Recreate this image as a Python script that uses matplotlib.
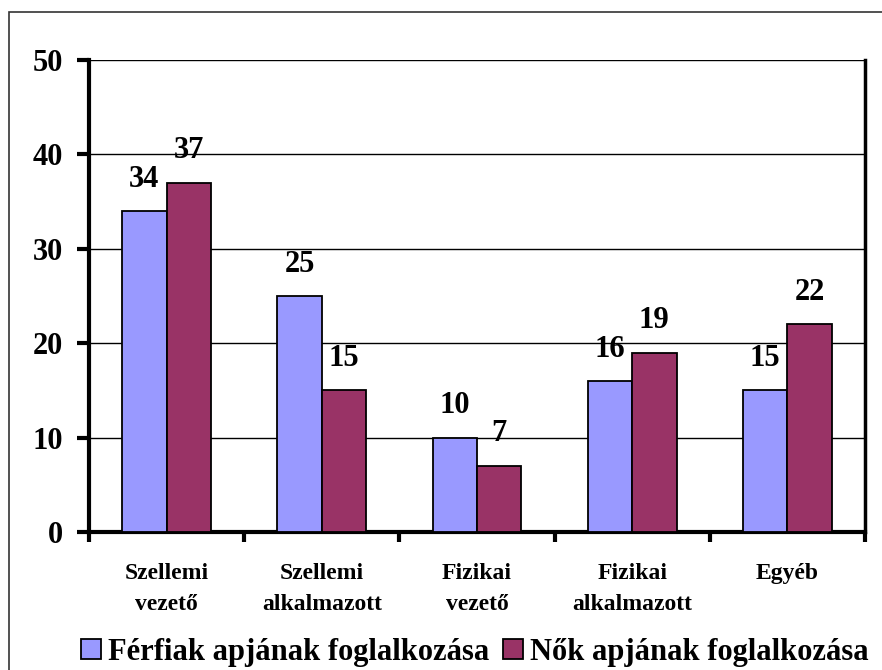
import numpy as np
import matplotlib
matplotlib.use("Agg")
from matplotlib import pyplot as plt
from matplotlib.patches import Rectangle

categories = ["Szellemi\nvezető", "Szellemi\nalkalmazott", "Fizikai\nvezető",
              "Fizikai\nalkalmazott", "Egyéb"]
men = [34, 25, 10, 16, 15]
women = [37, 15, 7, 19, 22]
series_names = ["Férfiak apjának foglalkozása", "Nők apjának foglalkozása"]
yticks = [0, 10, 20, 30, 40, 50]

plt.rcParams['font.family'] = ['Liberation Serif', 'DejaVu Serif']
plt.rcParams['font.weight'] = 'bold'

fig = plt.figure(figsize=(8.82, 6.7), dpi=100)
ax = fig.add_axes([89/882, 1-532/670, (865-89)/882, (532-60)/670])

# outer frame like the excel chart area
fig.patches.append(Rectangle((9/882, -0.05), 1.0, 1 - 12/670 + 0.05,
                             transform=fig.transFigure, fill=False,
                             edgecolor='#333333', linewidth=1.2))

x = np.arange(len(categories))
w = 1/3.5
b1 = ax.bar(x - w/2, men, w, color='#9999FF', edgecolor='black', linewidth=1.3,
            label=series_names[0], zorder=3)
b2 = ax.bar(x + w/2, women, w, color='#993366', edgecolor='black', linewidth=1.3,
            label=series_names[1], zorder=3)

for bars in (b1, b2):
    for r in bars:
        ax.annotate(str(int(r.get_height())), (r.get_x() + r.get_width()/2, r.get_height()),
                    xytext=(0, 23), textcoords='offset points', ha='center', va='center',
                    fontsize=22, fontweight='bold')

ax.set_xlim(-0.5, len(categories) - 0.5)
ax.set_ylim(0, 50)
ax.set_yticks(yticks)
ax.set_yticklabels([str(t) for t in yticks], fontsize=22, fontweight='bold')
ax.yaxis.grid(True, color='black', linewidth=1, zorder=0)
ax.set_axisbelow(True)

ax.set_xticks(x)
ax.set_xticklabels(categories, fontsize=17, fontweight='bold', linespacing=1.65)
ax.tick_params(axis='x', length=0, pad=22)
ax.set_xticks(np.arange(len(categories) + 1) - 0.5, minor=True)
ax.tick_params(axis='x', which='minor', length=7, width=3, direction='out')
ax.tick_params(axis='y', length=9, width=3, direction='out', pad=10)

for s in ('left', 'bottom'):
    ax.spines[s].set_linewidth(3)
ax.spines['right'].set_linewidth(2.5)
ax.spines['top'].set_visible(False)

ax.legend(loc='center', bbox_to_anchor=(0.5 - 2/776, -0.255), ncol=2, frameon=False,
          prop={'size': 22, 'weight': 'bold'}, handlelength=0.66, handleheight=0.66,
          handletextpad=0.22, columnspacing=0.45, borderpad=0)

fig.savefig("out.png", dpi=100)
